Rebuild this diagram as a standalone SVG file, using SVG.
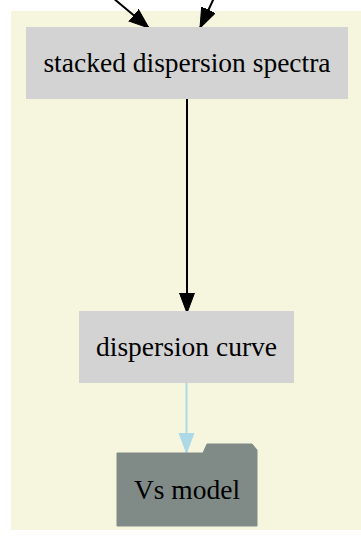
<svg xmlns="http://www.w3.org/2000/svg" width="361" height="538" viewBox="0 0 361 538">
<style>
.lbl{font-family:"Liberation Serif","Times New Roman",serif;font-size:27.5px;fill:#000;text-anchor:middle}
.box{fill:#d3d3d3;stroke:#d3d3d3;stroke-width:2}
.edge{fill:none;stroke:#000;stroke-width:2}
.edge-blue{fill:none;stroke:#add8e6;stroke-width:2}
</style>
<defs>
<marker id="ah" markerUnits="userSpaceOnUse" markerWidth="22" markerHeight="16" refX="20" refY="7.5" orient="auto" viewBox="0 0 22 16">
<path d="M0,0 L20,7.5 L0,15 z" fill="#000" stroke="#000" stroke-width="1"/>
</marker>
<marker id="ahb" markerUnits="userSpaceOnUse" markerWidth="22" markerHeight="16" refX="20" refY="7.5" orient="auto" viewBox="0 0 22 16">
<path d="M0,0 L20,7.5 L0,15 z" fill="#add8e6" stroke="#add8e6" stroke-width="1"/>
</marker>
</defs>
<rect x="0" y="0" width="361" height="538" fill="#ffffff"/>
<rect id="cluster" x="11" y="11" width="352" height="519" fill="#f5f5dc" opacity="0.9"/>
<g id="connectors">
<path class="edge" d="M113,-2 L149,28" marker-end="url(#ah)"/>
<path class="edge" d="M214,-2 L200,28" marker-end="url(#ah)"/>
<path class="edge" d="M187,99 L187,313" marker-end="url(#ah)"/>
<path class="edge-blue" d="M186.5,383 L186.5,453" marker-end="url(#ahb)"/>
</g>
<g id="stacked">
<rect class="box" x="27" y="28" width="320" height="70"/>
<text class="lbl" x="187" y="72">stacked dispersion spectra</text>
</g>
<g id="curve">
<rect class="box" x="80" y="312" width="213" height="70"/>
<text class="lbl" x="186.5" y="356">dispersion curve</text>
</g>
<g id="vs">
<path d="M117,453 L203,453 L207,444 L252,444 L257,450 L257,526 L117,526 z" fill="#808a87" stroke="#808a87" stroke-width="1"/>
<text class="lbl" x="187" y="499">Vs model</text>
</g>
</svg>
